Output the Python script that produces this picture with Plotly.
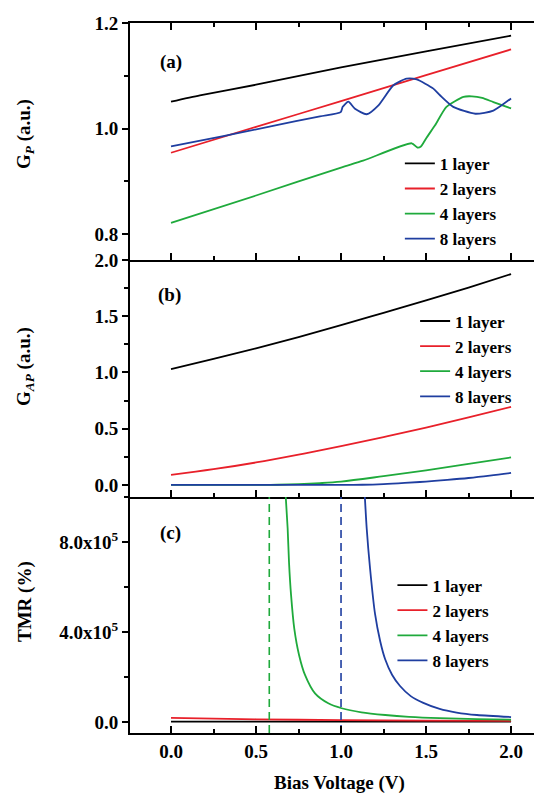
import plotly.graph_objects as go

# ---------------- data ----------------
names = ["1 layer", "2 layers", "4 layers", "8 layers"]
colors = ["#000000", "#e8202a", "#1faa3c", "#1f3ea0"]

# (a) G_P
v_gp_1 = [0.0, 0.17, 0.5, 1.0, 1.5, 2.0]
gp_1 = [1.051, 1.063, 1.083, 1.116, 1.146, 1.176]
v_gp_2 = [0.0, 0.5, 1.0, 1.5, 2.0]
gp_2 = [0.954, 1.003, 1.052, 1.101, 1.150]
v_gp_4 = [0.0, 0.5, 1.0, 1.13, 1.416, 1.449, 1.47, 1.504, 1.553, 1.62, 1.72, 1.77, 1.83, 1.896, 2.0]
gp_4 = [0.821, 0.873, 0.926, 0.939, 0.972, 0.964, 0.966, 0.983, 1.006, 1.041, 1.060, 1.061, 1.058, 1.050, 1.038]
v_gp_8 = [0.0, 0.3, 0.6, 0.876, 0.998, 1.01, 1.043, 1.082, 1.151, 1.22, 1.308, 1.386, 1.445,
          1.543, 1.582, 1.66, 1.79, 1.896, 2.0]
gp_8 = [0.966, 0.985, 1.005, 1.023, 1.031, 1.041, 1.051, 1.0375, 1.027, 1.044, 1.082, 1.0946, 1.093,
        1.0756, 1.063, 1.041, 1.028, 1.034, 1.057]

# (b) G_AP
v_gap = [0.0, 0.25, 0.5, 0.75, 1.0, 1.25, 1.5, 1.75, 2.0]
gap_1 = [1.03, 1.12, 1.215, 1.315, 1.42, 1.53, 1.64, 1.755, 1.875]
gap_2 = [0.09, 0.14, 0.20, 0.27, 0.345, 0.425, 0.51, 0.60, 0.695]
v_gap_4 = [0.0, 0.25, 0.5, 0.625, 0.75, 0.875, 1.0, 1.25, 1.5, 1.75, 2.0]
gap_4 = [0.0, 0.0, 0.0, 0.002, 0.007, 0.016, 0.03, 0.078, 0.13, 0.187, 0.245]
v_gap_8 = [0.0, 0.25, 0.5, 0.75, 1.0, 1.125, 1.25, 1.375, 1.5, 1.625, 1.75, 1.875, 2.0]
gap_8 = [0.0, 0.0, 0.0, 0.0, 0.0, 0.002, 0.008, 0.018, 0.03, 0.045, 0.062, 0.083, 0.107]

# (c) TMR (%)
v_tmr_1 = [0.0, 0.5, 1.0, 1.5, 2.0]
tmr_1 = [2000, 2000, 2000, 2000, 2000]
v_tmr_2 = [0.0, 0.5, 1.0, 1.5, 2.0]
tmr_2 = [18000, 12000, 8000, 6000, 5000]
v_tmr_4 = [0.667, 0.686, 0.694, 0.706, 0.725, 0.753, 0.788, 0.847, 0.925, 1.004, 1.12, 1.26,
           1.4, 1.58, 1.8, 2.0]
tmr_4 = [1.1e6, 8.6e5, 7.1e5, 5.65e5, 4.15e5, 2.98e5, 2.09e5, 1.27e5, 0.83e5, 0.61e5, 0.43e5, 0.31e5,
         0.23e5, 0.17e5, 0.13e5, 0.10e5]
v_tmr_8 = [1.133, 1.151, 1.171, 1.2, 1.23, 1.259, 1.3, 1.347, 1.41, 1.484, 1.58, 1.68, 1.8, 2.0]
tmr_8 = [1.1e6, 8.6e5, 6.8e5, 4.8e5, 3.6e5, 2.8e5, 2.1e5, 1.6e5, 1.15e5, 0.85e5, 0.58e5, 0.42e5,
         0.31e5, 0.22e5]

# divergence voltages (dashed lines in panel c)
v_div_4 = 0.578
v_div_8 = 1.0

x_ticks = [0.0, 0.5, 1.0, 1.5, 2.0]
x_ticktext = ["0.0", "0.5", "1.0", "1.5", "2.0"]
gp_ticks = [0.8, 1.0, 1.2]
gp_ticktext = ["0.8", "1.0", "1.2"]
gap_ticks = [0.0, 0.5, 1.0, 1.5, 2.0]
gap_ticktext = ["0.0", "0.5", "1.0", "1.5", "2.0"]
tmr_ticks = [0, 4e5, 8e5]
tmr_ticktext = ["0.0", "4.0x10<sup>5</sup>", "8.0x10<sup>5</sup>"]

# ---------------- figure ----------------
FONT = "Liberation Serif"
fig = go.Figure()

panels = [
    ("x", "y", "legend", [(v_gp_1, gp_1), (v_gp_2, gp_2), (v_gp_4, gp_4), (v_gp_8, gp_8)], 0.6),
    ("x2", "y2", "legend2", [(v_gap, gap_1), (v_gap, gap_2), (v_gap_4, gap_4), (v_gap_8, gap_8)], 1.0),
    ("x3", "y3", "legend3", [(v_tmr_1, tmr_1), (v_tmr_2, tmr_2), (v_tmr_4, tmr_4), (v_tmr_8, tmr_8)], 0.7),
]
for xa, ya, lg, series, sm in panels:
    for name, col, (xs, ys) in zip(names, colors, series):
        fig.add_trace(go.Scatter(
            x=xs, y=ys, mode="lines", name=name, legend=lg,
            line=dict(color=col, width=1.8, shape="spline", smoothing=sm),
            xaxis=xa, yaxis=ya))

tmr_range = [-4.9e4, 1.0e6]
for vd, col in [(v_div_4, colors[2]), (v_div_8, colors[3])]:
    fig.add_trace(go.Scatter(
        x=[vd, vd], y=tmr_range, mode="lines", showlegend=False,
        line=dict(color=col, width=1.6, dash="8px,5px"),
        xaxis="x3", yaxis="y3"))

tickfont = dict(family=FONT, size=19, color="black", weight="bold")
xrange_ = [-0.2412, 2.182]

def xaxis(domain_anchor, show_labels, mirror):
    return dict(
        range=xrange_, anchor=domain_anchor, domain=[0, 1],
        tickvals=x_ticks, ticktext=x_ticktext, showticklabels=show_labels,
        ticks="inside", ticklen=7, tickwidth=2, tickcolor="black",
        minor=dict(dtick=0.25, tick0=0, ticks="inside", ticklen=4, tickwidth=2, tickcolor="black"),
        showline=True, linewidth=2, linecolor="black", mirror=mirror,
        showgrid=False, zeroline=False, tickfont=tickfont,
    )

def yaxis(domain, rng, tv, tt, minor_dtick, minor_tick0, anchor):
    return dict(
        domain=domain, range=rng, anchor=anchor,
        tickvals=tv, ticktext=tt,
        ticks="outside", ticklen=6, tickwidth=2, tickcolor="black",
        minor=dict(dtick=minor_dtick, tick0=minor_tick0, ticks="outside", ticklen=4,
                   tickwidth=2, tickcolor="black"),
        showline=True, linewidth=2, linecolor="black", mirror=False,
        showgrid=False, zeroline=False, tickfont=tickfont,
    )

dom_a = [0.6662, 1.0]
dom_b = [0.3324, 0.6662]
dom_c = [0.0, 0.3324]

legfont = dict(family=FONT, size=17, color="black", weight="bold")
def leg(x, y):
    return dict(x=x, y=y, xanchor="left", yanchor="top", bgcolor="rgba(0,0,0,0)",
                font=legfont, itemwidth=30, tracegroupgap=0)

# the page body has an 8px margin, so the figure is 8px smaller than the window
fig.update_layout(
    width=534, height=786,
    margin=dict(l=122, r=0, t=15, b=61),
    paper_bgcolor="white", plot_bgcolor="white",
    font=dict(family=FONT, color="black"),
    xaxis=xaxis("y", False, "ticks"),
    xaxis2=xaxis("y2", False, False),
    xaxis3=xaxis("y3", True, False),
    yaxis=yaxis(dom_a, [0.7507, 1.2], gp_ticks, gp_ticktext, 0.1, 0.8, "x"),
    yaxis2=yaxis(dom_b, [-0.107, 2.0], gap_ticks, gap_ticktext, 0.25, 0, "x2"),
    yaxis3=yaxis(dom_c, tmr_range, tmr_ticks, tmr_ticktext, 2e5, 0, "x3"),
    legend=leg(0.655, 0.827),
    legend2=leg(0.692, 0.605),
    legend3=leg(0.637, 0.233),
    showlegend=True,
)

annfont = dict(family=FONT, size=19, color="black", weight="bold")
anns = [
    dict(text="(a)", x=0.0995, y=0.945),
    dict(text="(b)", x=0.097, y=0.617),
    dict(text="(c)", x=0.0995, y=0.2817),
]
for a in anns:
    fig.add_annotation(xref="paper", yref="paper", xanchor="center", yanchor="middle",
                       showarrow=False, font=annfont, **a)

titles = [
    ("G<sub><i>P</i></sub> (a.u.)", 0.8437),
    ("G<sub><i>AP</i></sub> (a.u.)", 0.5169),
    ("TMR (%)", 0.1859),
]
for t, yy in titles:
    fig.add_annotation(xref="paper", yref="paper", x=-0.2549, y=yy, text=t, textangle=-90,
                       xanchor="center", yanchor="middle", showarrow=False, font=annfont)

fig.add_annotation(xref="paper", yref="paper", x=0.5097, y=-0.0704, text="Bias Voltage (V)",
                   xanchor="center", yanchor="middle", showarrow=False, font=annfont)

fig.write_html("out.html")
